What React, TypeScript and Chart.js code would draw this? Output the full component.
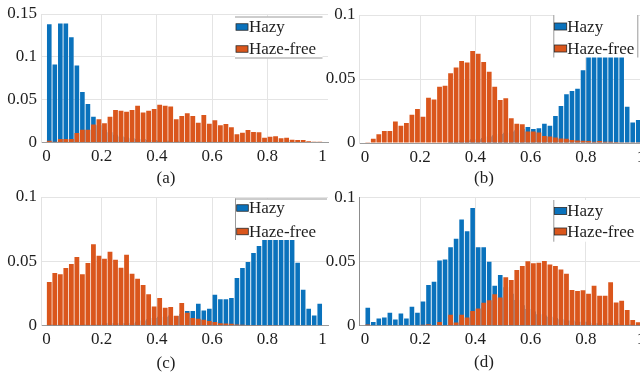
import React, { useEffect, useRef } from 'react';
import { Chart, registerables } from 'chart.js';

Chart.register(...registerables);

// ---------- data ----------
const BIN_CENTERS = [
  0.01, 0.03, 0.05, 0.07, 0.09, 0.11, 0.13, 0.15, 0.17, 0.19,
  0.21, 0.23, 0.25, 0.27, 0.29, 0.31, 0.33, 0.35, 0.37, 0.39,
  0.41, 0.43, 0.45, 0.47, 0.49, 0.51, 0.53, 0.55, 0.57, 0.59,
  0.61, 0.63, 0.65, 0.67, 0.69, 0.71, 0.73, 0.75, 0.77, 0.79,
  0.81, 0.83, 0.85, 0.87, 0.89, 0.91, 0.93, 0.95, 0.97, 0.99,
];
const X_TICKS = [0, 0.2, 0.4, 0.6, 0.8, 1];
const Y_TICKS_A = [0, 0.05, 0.1, 0.15];
const Y_TICKS_BCD = [0, 0.05, 0.1];
const SERIES_NAMES = ['Hazy', 'Haze-free'];
const PANEL_LABELS = ['(a)', '(b)', '(c)', '(d)'];

const HAZY_A = [
  0.138, 0.091, 0.139, 0.139, 0.123, 0.09, 0.059, 0.045, 0.03, 0.02,
  0.015, 0.012, 0.009, 0.007, 0.006, 0.005, 0.004, 0.004, 0.003, 0.003,
  0.002, 0.002, 0.002, 0.002, 0.001, 0.001, 0.001, 0.001, 0.001, 0.001,
  0.001, 0.001, 0.001, 0.001, 0.001, 0.001, 0, 0, 0, 0,
  0, 0, 0, 0, 0, 0, 0, 0, 0, 0,
];
const HAZE_FREE_A = [
  0.002, 0.001, 0.004, 0.004, 0.004, 0.011, 0.015, 0.015, 0.021, 0.027,
  0.0226, 0.03, 0.038, 0.037, 0.036, 0.038, 0.043, 0.035, 0.037, 0.039,
  0.044, 0.043, 0.042, 0.027, 0.031, 0.034, 0.031, 0.023, 0.032, 0.022,
  0.026, 0.02, 0.0216, 0.0177, 0.0095, 0.0115, 0.0146, 0.0123, 0.0119, 0.0056,
  0.0068, 0.0072, 0.0049, 0.0056, 0.0033, 0.003, 0.003, 0.0014, 0.001, 0.001,
];
const HAZY_B = [
  0, 0, 0, 0, 0, 0, 0, 0, 0, 0,
  0, 0, 0, 0, 0, 0.001, 0.001, 0.002, 0.002, 0.003,
  0.003, 0.004, 0.005, 0.006, 0.007, 0.008, 0.009, 0.01, 0.011, 0.0125,
  0.011, 0.0115, 0.0151, 0.0135, 0.021, 0.029, 0.038, 0.0406, 0.0424, 0.0568,
  0.072, 0.082, 0.088, 0.09, 0.086, 0.08, 0.072, 0.0284, 0.0161, 0.018,
];
const HAZE_FREE_B = [
  0.0005, 0.0034, 0.0068, 0.0094, 0.0094, 0.0167, 0.0135, 0.0156, 0.022, 0.0266,
  0.0206, 0.0354, 0.0339, 0.044, 0.0448, 0.0544, 0.059, 0.064, 0.0628, 0.0719,
  0.0698, 0.0633, 0.0557, 0.044, 0.0336, 0.0349, 0.0193, 0.0151, 0.0146, 0.0089,
  0.0089, 0.0083, 0.0055, 0.005, 0.0042, 0.0036, 0.0034, 0.0023, 0.002, 0.0018,
  0.0015, 0.001, 0.0015, 0.001, 0.001, 0.0008, 0.0005, 0.0005, 0.0005, 0.0005,
];
const HAZY_C = [
  0.001, 0.001, 0.001, 0.001, 0.001, 0.001, 0.001, 0.001, 0.001, 0.001,
  0.002, 0.002, 0.002, 0.002, 0.002, 0.002, 0.003, 0.004, 0.005, 0.006,
  0.007, 0.007, 0.008, 0.0075, 0.009, 0.0115, 0.0114, 0.0171, 0.0119, 0.0132,
  0.024, 0.0205, 0.0205, 0.0215, 0.037, 0.0448, 0.0495, 0.0565, 0.062, 0.072,
  0.08, 0.085, 0.085, 0.08, 0.072, 0.049, 0.028, 0.0132, 0.008, 0.0171,
];
const HAZE_FREE_C = [
  0.0339, 0.041, 0.04, 0.0448, 0.048, 0.0534, 0.04, 0.0487, 0.0632, 0.0544,
  0.052, 0.0575, 0.0513, 0.045, 0.0552, 0.0404, 0.0365, 0.0316, 0.0244, 0.015,
  0.0215, 0.014, 0.0145, 0.0078, 0.0176, 0.01, 0.006, 0.0054, 0.0047, 0.0036,
  0.0028, 0.002, 0.0018, 0.0015, 0.001, 0.0008, 0.0006, 0.0005, 0.0005, 0.0003,
  0.0002, 0.0002, 0, 0, 0, 0, 0, 0, 0, 0,
];
const HAZY_D = [
  0.0141, 0.0029, 0.0057, 0.0065, 0.0102, 0.0049, 0.0096, 0.0057, 0.0148, 0.0102,
  0.019, 0.0318, 0.0344, 0.051, 0.0518, 0.0612, 0.068, 0.083, 0.0737, 0.0919,
  0.0612, 0.0612, 0.05, 0.0313, 0.0396, 0.03, 0.025, 0.02, 0.016, 0.013,
  0.011, 0.009, 0.008, 0.007, 0.006, 0.005, 0.004, 0.004, 0.003, 0.003,
  0.003, 0.002, 0.002, 0.002, 0.002, 0.002, 0.001, 0.001, 0.001, 0.001,
];
const HAZE_FREE_D = [
  0.001, 0, 0, 0, 0, 0, 0, 0, 0, 0,
  0.0008, 0.0012, 0.0005, 0.0028, 0.0005, 0.0085, 0.0025, 0.0085, 0.0065, 0.0115,
  0.0135, 0.018, 0.0198, 0.0245, 0.022, 0.0378, 0.0357, 0.0435, 0.0466, 0.0503,
  0.0487, 0.0492, 0.0505, 0.0479, 0.0466, 0.044, 0.0406, 0.0279, 0.0271, 0.0276,
  0.025, 0.0313, 0.0234, 0.0234, 0.0339, 0.0182, 0.0195, 0.0122, 0.0044, 0.0026,
];

// ---------- styling ----------
const BLUE = '#0a72bc';
const ORANGE = '#da561c';
const FONT = '"Liberation Serif", "Times New Roman", Times, serif';
const TEXT = '#1e1e1e';

type LegendSpec = {
  x: number; y: number; w: number; h: number;
  rows: number[]; swX: number; swW: number; swH: number; textX: number;
  top?: boolean; bottom?: boolean; left?: boolean; right?: boolean;
};
type PanelSpec = {
  left: number; top: number; w: number; h: number;
  hazy: number[]; hazeFree: number[]; yMax: number; yTicks: number[];
  axisW: number; axisH: number;
  pad: { left: number; right: number; top: number; bottom: number };
  legend: LegendSpec; caption: string; capX: number; capY: number;
  yBorder: string;
};

const PANELS: PanelSpec[] = [
  {
    left: 0, top: 0, w: 330, h: 187, hazy: HAZY_A, hazeFree: HAZE_FREE_A,
    yMax: 0.15, yTicks: Y_TICKS_A, axisW: 41, axisH: 30,
    pad: { left: 0, right: 2, top: 14, bottom: 14.5 },
    legend: { x: 235, y: 16.5, w: 87.5, h: 42, rows: [27, 49], swX: 236, swW: 12, swH: 6.5, textX: 249, top: true, bottom: true },
    caption: PANEL_LABELS[0], capX: 166, capY: 179, yBorder: '#e2e2e2',
  },
  {
    left: 320, top: 0, w: 330, h: 187, hazy: HAZY_B, hazeFree: HAZE_FREE_B,
    yMax: 0.1, yTicks: Y_TICKS_BCD, axisW: 39.5, axisH: 30,
    pad: { left: 0, right: 3.5, top: 15, bottom: 14 },
    legend: { x: 233.3, y: 15, w: 85, h: 42.5, rows: [26.5, 48.5], swX: 234.3, swW: 12.4, swH: 7, textX: 247.3, left: true, right: true },
    caption: PANEL_LABELS[1], capX: 164, capY: 179, yBorder: '#e2e2e2',
  },
  {
    left: 0, top: 187, w: 330, h: 187, hazy: HAZY_C, hazeFree: HAZE_FREE_C,
    yMax: 0.1, yTicks: Y_TICKS_BCD, axisW: 41, axisH: 30,
    pad: { left: 0, right: 2, top: 10, bottom: 18.3 },
    legend: { x: 235, y: 11.5, w: 92, h: 41.5, rows: [21, 44.5], swX: 236.7, swW: 11.6, swH: 6.5, textX: 249, left: true, top: true },
    caption: PANEL_LABELS[2], capX: 166, capY: 177, yBorder: '#e2e2e2',
  },
  {
    left: 320, top: 187, w: 330, h: 187, hazy: HAZY_D, hazeFree: HAZE_FREE_D,
    yMax: 0.1, yTicks: Y_TICKS_BCD, axisW: 39.5, axisH: 30,
    pad: { left: 0, right: 3.5, top: 10.7, bottom: 18.3 },
    legend: { x: 233.3, y: 13, w: 90, h: 41.7, rows: [24, 44.5], swX: 234.3, swW: 12.4, swH: 7, textX: 247.3, left: true },
    caption: PANEL_LABELS[3], capX: 164, capY: 176, yBorder: '#8c8c8c',
  },
];

const decorPlugin = {
  id: 'panelDecor',
  afterDraw(chart: any, _args: any, opts: any) {
    const ctx: CanvasRenderingContext2D = chart.ctx;
    const lg: LegendSpec = opts.legend;
    ctx.save();
    if (lg) {
      ctx.fillStyle = '#ffffff';
      ctx.fillRect(lg.x, lg.y, lg.w, lg.h);
      ctx.strokeStyle = '#9a9a9a';
      ctx.lineWidth = 1;
      ctx.beginPath();
      if (lg.top) { ctx.moveTo(lg.x, lg.y + 0.5); ctx.lineTo(lg.x + lg.w, lg.y + 0.5); }
      if (lg.bottom) { ctx.moveTo(lg.x, lg.y + lg.h - 0.5); ctx.lineTo(lg.x + lg.w, lg.y + lg.h - 0.5); }
      if (lg.left) { ctx.moveTo(lg.x + 0.5, lg.y); ctx.lineTo(lg.x + 0.5, lg.y + lg.h); }
      if (lg.right) { ctx.moveTo(lg.x + lg.w - 0.5, lg.y); ctx.lineTo(lg.x + lg.w - 0.5, lg.y + lg.h); }
      ctx.stroke();
      const ds = chart.data.datasets;
      ctx.font = `17px ${FONT}`;
      ctx.textBaseline = 'middle';
      ctx.textAlign = 'left';
      lg.rows.forEach((cy: number, i: number) => {
        const d = ds[i];
        ctx.fillStyle = d.backgroundColor;
        ctx.fillRect(lg.swX, cy - lg.swH / 2, lg.swW, lg.swH);
        ctx.strokeStyle = '#2a2a2a';
        ctx.lineWidth = 0.8;
        ctx.strokeRect(lg.swX, cy - lg.swH / 2, lg.swW, lg.swH);
        ctx.fillStyle = TEXT;
        ctx.fillText(d.label, lg.textX, cy + 1);
      });
    }
    if (opts.caption) {
      ctx.font = `17px ${FONT}`;
      ctx.fillStyle = TEXT;
      ctx.textAlign = 'center';
      ctx.textBaseline = 'middle';
      ctx.fillText(opts.caption, opts.capX, opts.capY);
    }
    ctx.restore();
  },
};

function fmt(v: number): string {
  return String(Math.round(v * 100) / 100);
}

function Panel({ spec }: { spec: PanelSpec }) {
  const ref = useRef<HTMLCanvasElement | null>(null);
  useEffect(() => {
    const canvas = ref.current;
    if (!canvas) return;
    const chart = new Chart(canvas, {
      type: 'bar',
      data: {
        datasets: [
          {
            label: SERIES_NAMES[0],
            data: BIN_CENTERS.map((x, i) => ({ x, y: spec.hazy[i] })),
            backgroundColor: BLUE,
            borderWidth: 0,
            grouped: false,
            order: 2,
            categoryPercentage: 1,
            barPercentage: 0.835,
          } as any,
          {
            label: SERIES_NAMES[1],
            data: BIN_CENTERS.map((x, i) => ({ x, y: spec.hazeFree[i] })),
            backgroundColor: ORANGE,
            borderWidth: 0,
            grouped: false,
            order: 1,
            categoryPercentage: 1,
            barPercentage: 0.87,
          } as any,
        ],
      },
      options: {
        responsive: false,
        animation: false,
        events: [],
        layout: { padding: spec.pad },
        plugins: {
          legend: { display: false },
          tooltip: { enabled: false },
          panelDecor: { legend: spec.legend, caption: spec.caption, capX: spec.capX, capY: spec.capY },
        } as any,
        scales: {
          x: {
            type: 'linear',
            offset: false,
            min: -0.02,
            max: 1.02,
            afterBuildTicks: (s: any) => { s.ticks = X_TICKS.map((v) => ({ value: v })); },
            afterFit: (s: any) => { s.height = spec.axisH; s.paddingLeft = 0; s.paddingRight = 0; },
            ticks: {
              callback: (v: any) => fmt(Number(v)),
              font: { family: FONT, size: 17 },
              color: TEXT,
              padding: 4,
              maxRotation: 0,
              autoSkip: false,
            },
            grid: {
              offset: false,
              drawTicks: false,
              color: (c: any) => (c.tick && (c.tick.value === 0 || c.tick.value === 1) ? 'rgba(0,0,0,0)' : '#e4e4e4'),
              lineWidth: 1,
            },
            border: { color: '#9c9c9c', width: 1 },
          },
          y: {
            type: 'linear',
            min: 0,
            max: spec.yMax,
            afterBuildTicks: (s: any) => { s.ticks = spec.yTicks.map((v) => ({ value: v })); },
            afterFit: (s: any) => { s.width = spec.axisW; s.paddingTop = 0; s.paddingBottom = 0; },
            ticks: {
              callback: (v: any) => fmt(Number(v)),
              font: { family: FONT, size: 17 },
              color: TEXT,
              padding: 4,
              autoSkip: false,
            },
            grid: {
              drawTicks: false,
              color: (c: any) => (c.tick && c.tick.value === 0 ? 'rgba(0,0,0,0)' : '#e4e4e4'),
              lineWidth: 1,
            },
            border: { color: spec.yBorder, width: 1 },
          },
        },
      } as any,
      plugins: [decorPlugin as any],
    });
    return () => chart.destroy();
  }, [spec]);
  return (
    <canvas
      ref={ref}
      width={spec.w}
      height={spec.h}
      style={{ position: 'absolute', left: spec.left, top: spec.top, width: spec.w, height: spec.h }}
    />
  );
}

export default function App() {
  return (
    <div
      style={{
        position: 'absolute', left: 0, top: 0, width: 640, height: 374,
        overflow: 'hidden', background: '#ffffff',
      }}
    >
      {PANELS.map((p, i) => (
        <Panel key={i} spec={p} />
      ))}
    </div>
  );
}
